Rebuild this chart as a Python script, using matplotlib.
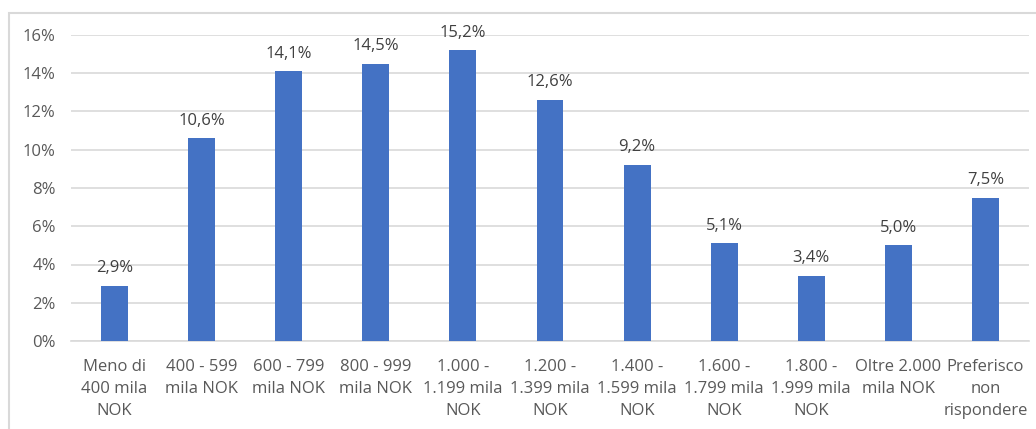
import matplotlib
matplotlib.use("Agg")
import matplotlib.pyplot as plt
from matplotlib.patches import Rectangle
from matplotlib.ticker import FuncFormatter

categories = ["Meno di\n400 mila\nNOK", "400 - 599\nmila NOK", "600 - 799\nmila NOK",
              "800 - 999\nmila NOK", "1.000 -\n1.199 mila\nNOK", "1.200 -\n1.399 mila\nNOK",
              "1.400 -\n1.599 mila\nNOK", "1.600 -\n1.799 mila\nNOK", "1.800 -\n1.999 mila\nNOK",
              "Oltre 2.000\nmila NOK", "Preferisco\nnon\nrispondere"]
values = [2.9, 10.6, 14.1, 14.5, 15.2, 12.6, 9.2, 5.1, 3.4, 5.0, 7.5]
yticks = [0, 2, 4, 6, 8, 10, 12, 14, 16]

plt.rcParams['font.family'] = ['Open Sans', 'DejaVu Sans']

W, H = 1036, 429
fig = plt.figure(figsize=(W/100, H/100), dpi=100)
ax = fig.add_axes([71/W, 1-341/H, (1029-71)/W, (341-35)/H])

x = list(range(len(categories)))
ax.bar(x, values, width=0.31, color="#4472C4", zorder=3)
for xi, v in zip(x, values):
    ax.annotate(f"{v:.1f}%".replace(".", ","), (xi, v), xytext=(0, 7), textcoords="offset points",
                ha="center", va="bottom", fontsize=12, color="#404040")

ax.set_xlim(-0.5, len(categories)-0.5)
ax.set_ylim(0, 16)
ax.set_yticks(yticks)
ax.yaxis.set_major_formatter(FuncFormatter(lambda v, p: f"{v:.0f}%"))
ax.set_xticks(x)
ax.set_xticklabels(categories, fontsize=12, color="#595959", linespacing=1.5)
ax.tick_params(axis='y', labelsize=12, labelcolor="#595959", length=0, pad=11)
ax.tick_params(axis='x', length=0, pad=13)
ax.grid(axis='y', color="#D9D9D9", linewidth=1.2, zorder=0)
for s in ["top", "right", "left"]:
    ax.spines[s].set_visible(False)
ax.spines["bottom"].set_color("#D9D9D9")
ax.spines["bottom"].set_linewidth(1.2)

fig.patches.append(Rectangle((9/W, -0.1), 1.2, 1.1 - 13/H, transform=fig.transFigure,
                             fill=False, edgecolor="#D9D9D9", linewidth=1.5))

fig.savefig("out.png", dpi=100)
